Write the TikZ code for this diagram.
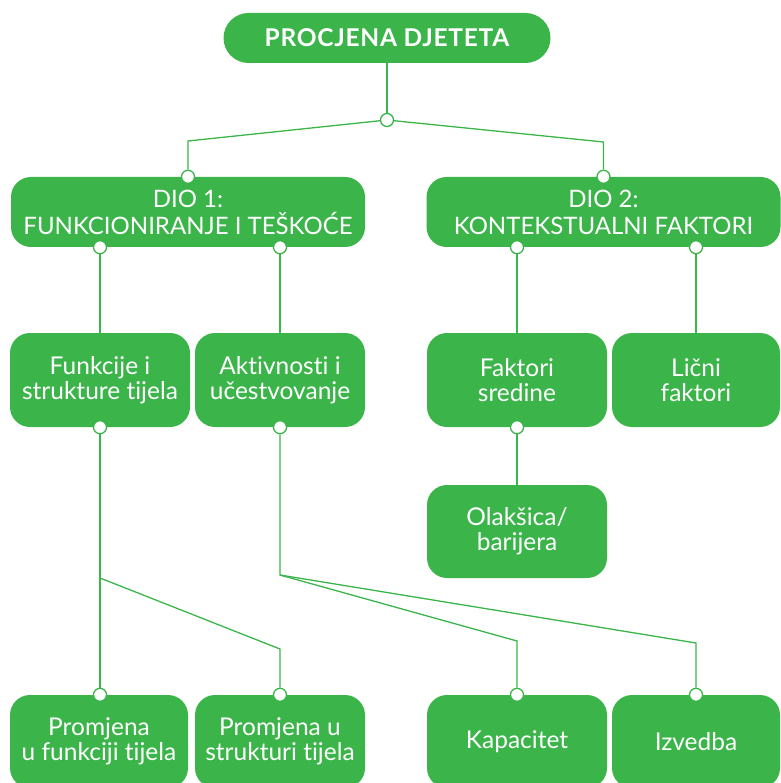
\documentclass[tikz,border=0pt]{standalone}
\usepackage{fontspec}
\setmainfont{Lato}[Ligatures={NoCommon,NoRare}]
\usetikzlibrary{positioning, calc}
\definecolor{icfgreen}{HTML}{3BB54A}

\begin{document}
\begin{tikzpicture}[x=1pt,y=-1pt,
  box/.style={fill=icfgreen,text=white,rounded corners=20pt,align=center,inner sep=0pt,font=\fontsize{24.5}{25}\selectfont},
  partbox/.style={box,minimum width=354pt,minimum height=70pt,font=\fontsize{24}{27}\selectfont},
  dot/.style={circle,draw=icfgreen,fill=white,line width=1.3pt,inner sep=0pt,minimum size=13pt},
  link/.style={draw=icfgreen,line width=1.3pt}]
  \useasboundingbox (0,0) rectangle (780,783);

  % boxes
  \node[box,rounded corners=25pt,minimum width=327pt,minimum height=50pt,font=\fontsize{24.5}{24}\selectfont\bfseries\addfontfeatures{LetterSpace=3}] (root) at (387,38) {PROCJENA DJETETA};
  \node[partbox] (dio1) at (188,212) {DIO 1:\\FUNKCIONIRANJE I TEŠKOĆE};
  \node[partbox] (dio2) at (603.5,212) {DIO 2:\\KONTEKSTUALNI FAKTORI};

  \node[box,minimum width=180pt,minimum height=94pt] (funk) at (100,380) {Funkcije i\\strukture tijela};
  \node[box,minimum width=170pt,minimum height=94pt] (akt) at (280,380) {Aktivnosti i\\učestvovanje};
  \node[box,minimum width=180pt,minimum height=94pt] (sred) at (517,380) {Faktori\\sredine};
  \node[box,minimum width=168pt,minimum height=94pt] (licni) at (696,380) {Lični\\faktori};
  \node[box,minimum width=180pt,minimum height=93pt] (olak) at (517,531.5) {Olakšica/\\barijera};

  \node[box,minimum width=178pt,minimum height=93pt] (pfunk) at (99,741.5) {Promjena\\u funkciji tijela};
  \node[box,minimum width=170pt,minimum height=93pt] (pstr) at (280,741.5) {Promjena u\\strukturi tijela};
  \node[box,minimum width=180pt,minimum height=93pt] (kap) at (517,741.5) {Kapacitet};
  \node[box,minimum width=168pt,minimum height=93pt] (izv) at (696,741.5) {Izvedba};

  % dots
  \node[dot] (d0) at (387,120) {};
  \node[dot] (d1) at (dio1.north) {};
  \node[dot] (d2) at (dio2.north) {};
  \node[dot] (d1a) at (dio1.south -| funk.north) {};
  \node[dot] (d1b) at (dio1.south -| akt.north) {};
  \node[dot] (d2a) at (dio2.south -| sred.north) {};
  \node[dot] (d2b) at (dio2.south -| licni.north) {};
  \node[dot] (dfunk) at (funk.south) {};
  \node[dot] (dakt) at (akt.south) {};
  \node[dot] (dsred) at (sred.south) {};
  \node[dot] (dpfunk) at (dfunk |- pfunk.north) {};
  \node[dot] (dpstr) at (pstr.north) {};
  \node[dot] (dkap) at (kap.north) {};
  \node[dot] (dizv) at (izv.north) {};

  % bends
  \coordinate (j1) at (d1 |- 0,141);
  \coordinate (j2) at (d2 |- 0,142);
  \coordinate (jfunk) at (dfunk |- 0,578);
  \coordinate (jstr) at (dpstr |- 0,649);
  \coordinate (jakt) at (dakt |- 0,575);
  \coordinate (jkap) at (dkap |- 0,641);
  \coordinate (jizv) at (dizv |- 0,643);

  % links
  \draw[link] (root) -- (d0);
  \draw[link] (d0) -- (j1) -- (d1);
  \draw[link] (d0) -- (j2) -- (d2);
  \draw[link] (d1a) -- (funk);
  \draw[link] (d1b) -- (akt);
  \draw[link] (d2a) -- (sred);
  \draw[link] (d2b) -- (licni);
  \draw[link] (dsred) -- (olak);
  \draw[link] (dfunk) -- (dpfunk);
  \draw[link] (jfunk) -- (jstr) -- (dpstr);
  \draw[link] (dakt) -- (jakt) -- (jkap) -- (dkap);
  \draw[link] (jakt) -- (jizv) -- (dizv);
\end{tikzpicture}
\end{document}
